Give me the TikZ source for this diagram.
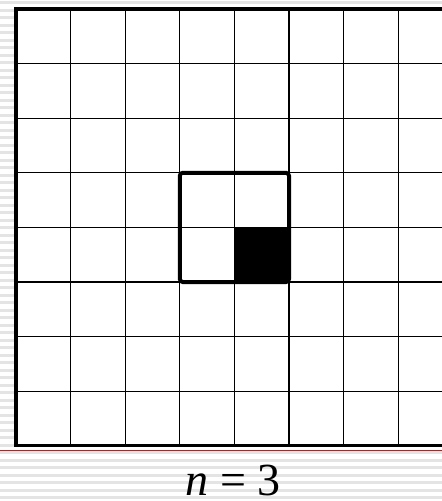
\documentclass[tikz,border=0pt]{standalone}
\usepackage{fontspec}
\setmainfont{Liberation Serif}
\usetikzlibrary{positioning}
\definecolor{stripegray}{RGB}{228,228,228}
\definecolor{rulered}{RGB}{210,20,20}

\begin{document}
\begin{tikzpicture}[x=1pt, y=-1pt,
    cellline/.style={draw=black, line width=1.1pt},
    frameline/.style={draw=black, line width=3.2pt},
    window/.style={draw=black, line width=4pt, rounded corners=3pt}]
  \useasboundingbox (0,0) rectangle (442,501);
  \begin{scope}
    \clip (0,0) rectangle (442,501);
    % striped background
    \foreach \k in {0,...,67}
      \fill[stripegray] (0,{\k*7.5+1}) rectangle (442,{\k*7.5+4});
    \fill[white] (16,9) rectangle (452.8,445.8);
    % filled cell
    \fill[black] (234.4,227.4) rectangle (289,282);
    % grid
    \foreach \i in {1,...,7} {
      \draw[cellline] ({16+\i*54.6},9) -- ({16+\i*54.6},445.8);
      \draw[cellline] (16,{9+\i*54.6}) -- (452.8,{9+\i*54.6});
    }
    \draw[frameline] (460,9) -- (16,9) -- (16,445.8) -- (460,445.8);
    \draw[window] (179.8,172.8) rectangle (289,282);
    \draw[rulered, line width=0.9pt] (0,450.5) -- (442,450.5);
  \end{scope}
  \node[font=\fontsize{46}{50}\selectfont, anchor=base, inner sep=0pt] (caption) at (233,495) {\textit{n} = 3};
\end{tikzpicture}
\end{document}
